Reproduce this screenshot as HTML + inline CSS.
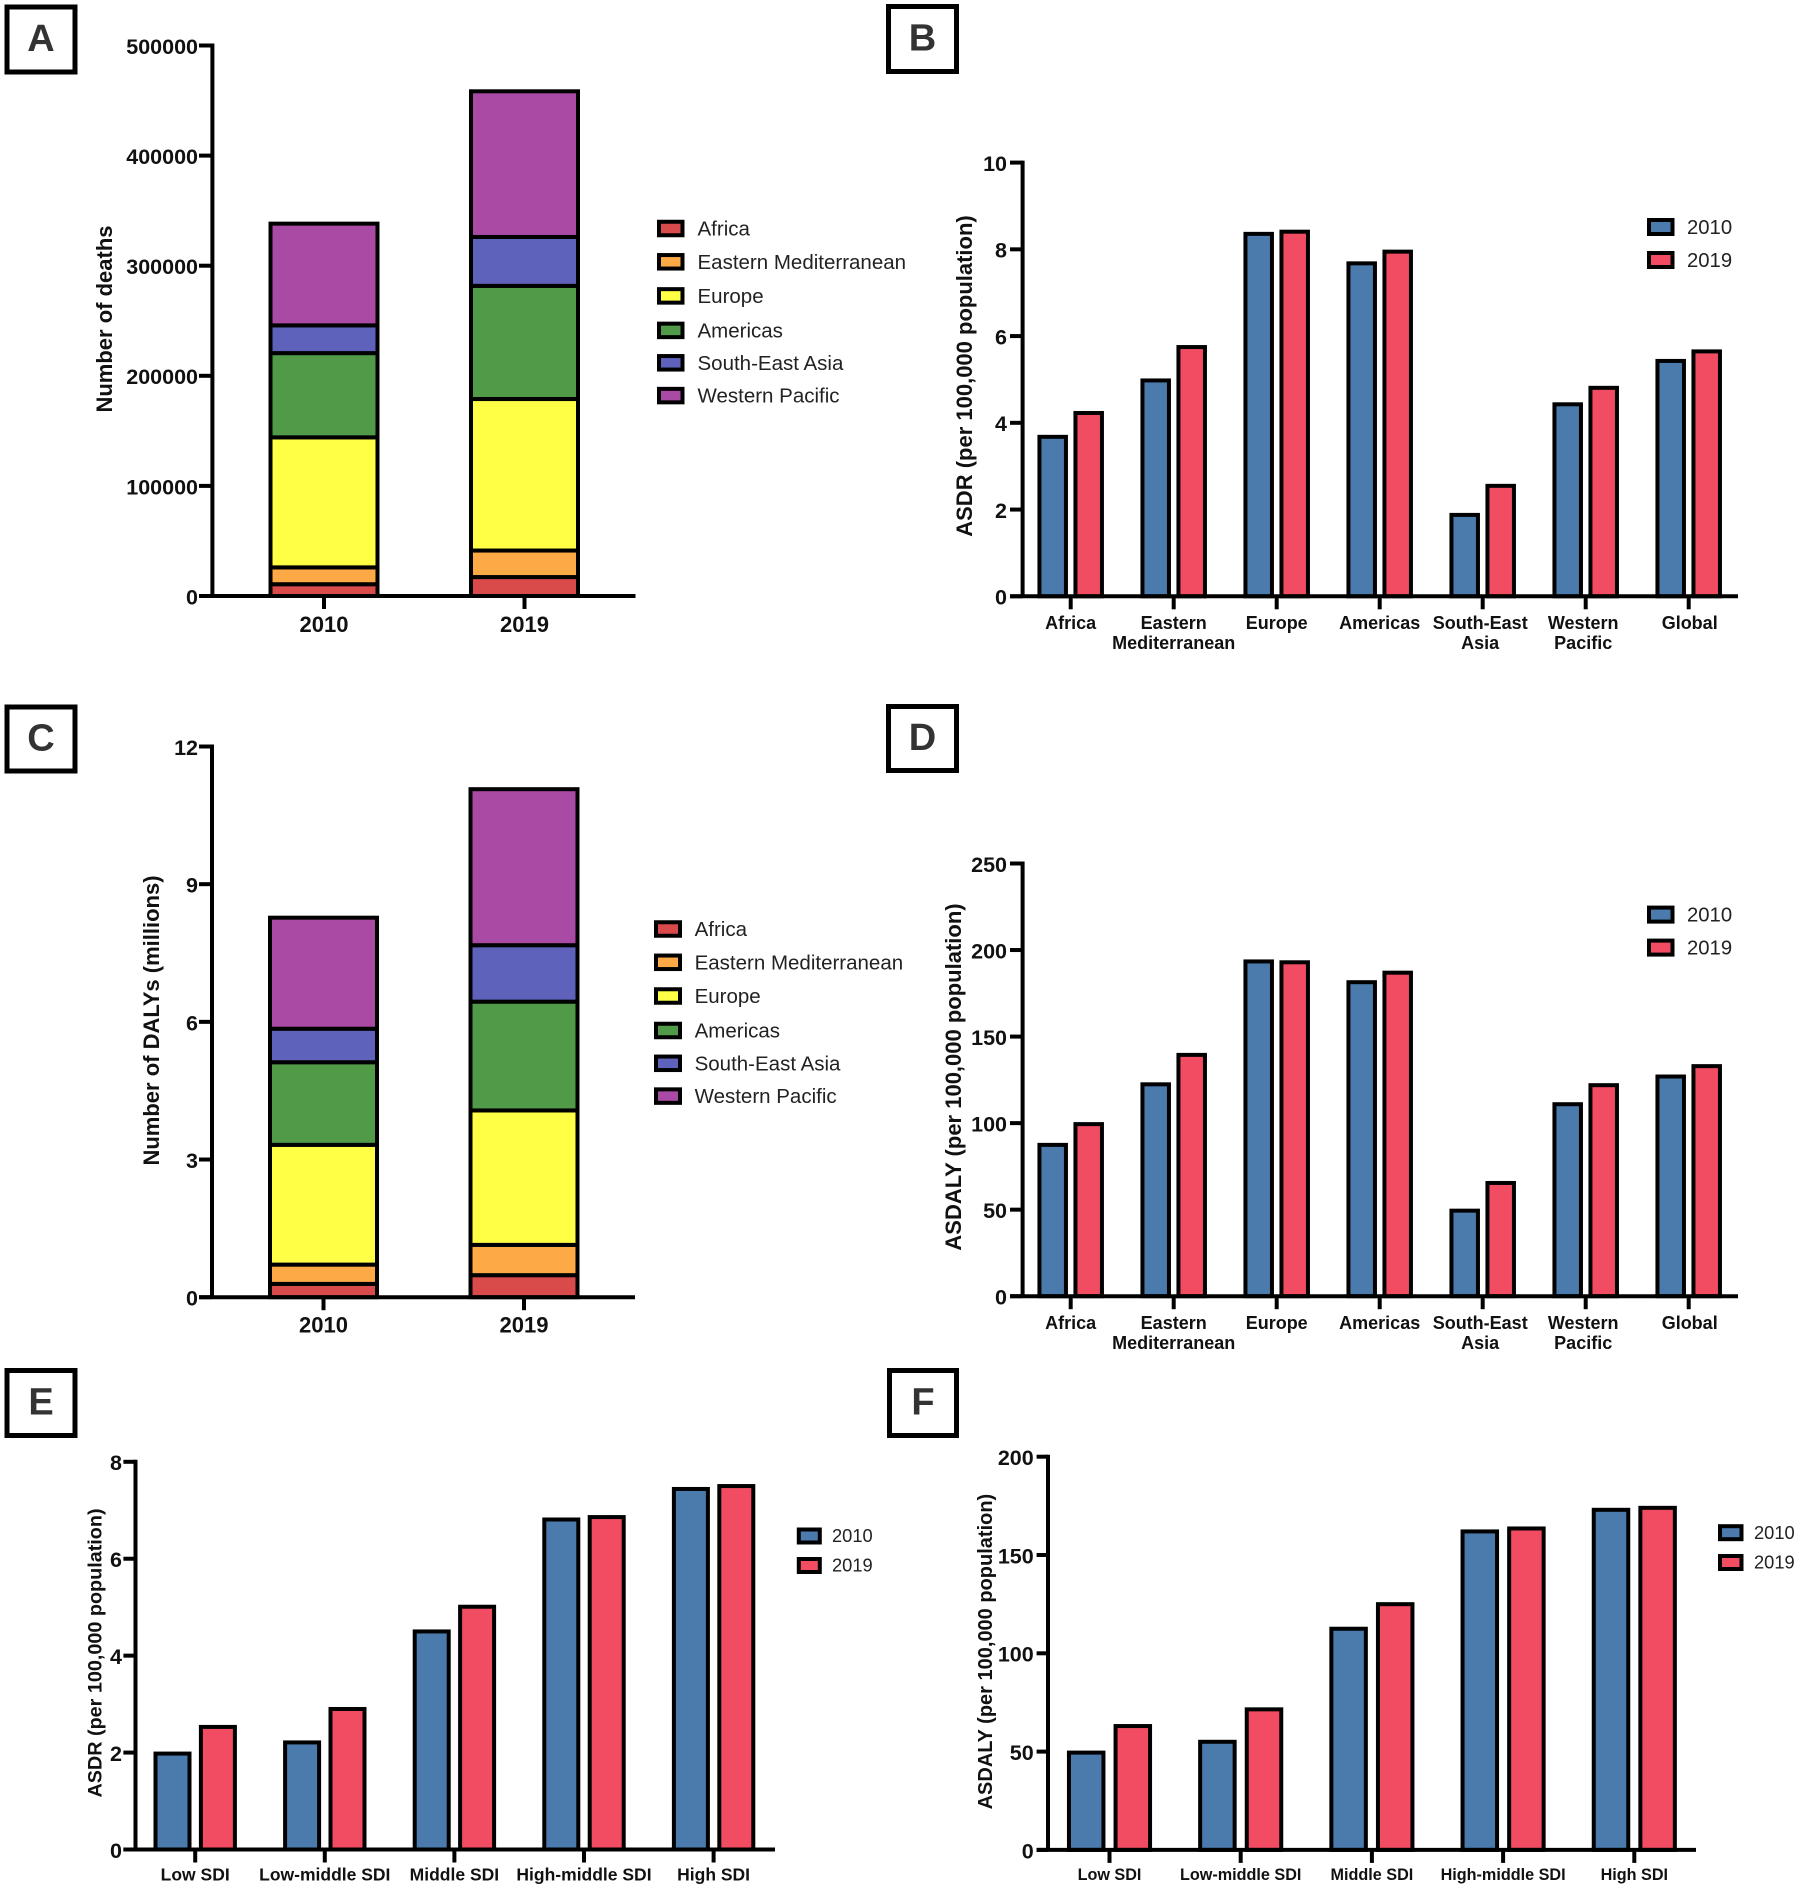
<!DOCTYPE html>
<html lang="en">
<head>
<meta charset="utf-8">
<title>Deaths and DALYs by region and SDI, 2010 and 2019</title>
<style>
html,body{margin:0;padding:0;background:#fff;}
#figure{display:block;width:1800px;height:1890px;font-family:"Liberation Sans",Arial,sans-serif;}
</style>
</head>
<body>
<svg id="figure" xmlns="http://www.w3.org/2000/svg" width="1800" height="1890" viewBox="0 0 1800 1890"></svg>
<script>
// ---------- chart data ----------
const stackYears = ['2010', '2019'];
const regionNames = ['Africa', 'Eastern Mediterranean', 'Europe', 'Americas', 'South-East Asia', 'Western Pacific'];
const deaths2010 = [10700, 15300, 118100, 76500, 25200, 92400];
const deaths2019 = [17200, 24100, 137600, 102800, 44400, 132300];
const deathsTicks = [0, 100000, 200000, 300000, 400000, 500000];
const dalys2010 = [0.29, 0.42, 2.61, 1.80, 0.73, 2.42];
const dalys2019 = [0.48, 0.66, 2.93, 2.37, 1.23, 3.40];
const dalysTicks = [0, 3, 6, 9, 12];

const whoLabels = [['Africa'], ['Eastern', 'Mediterranean'], ['Europe'], ['Americas'], ['South-East', 'Asia'], ['Western', 'Pacific'], ['Global']];
const asdrWho2010 = [3.70, 5.00, 8.38, 7.70, 1.90, 4.45, 5.45];
const asdrWho2019 = [4.25, 5.77, 8.43, 7.97, 2.57, 4.83, 5.67];
const asdrWhoTicks = [0, 2, 4, 6, 8, 10];
const asdalyWho2010 = [88, 123, 194, 182, 50, 111.5, 127.5];
const asdalyWho2019 = [100, 140, 193.5, 187.5, 66, 122.5, 133.5];
const asdalyWhoTicks = [0, 50, 100, 150, 200, 250];

const sdiLabels = [['Low SDI'], ['Low-middle SDI'], ['Middle SDI'], ['High-middle SDI'], ['High SDI']];
const asdrSdi2010 = [2.00, 2.23, 4.52, 6.83, 7.46];
const asdrSdi2019 = [2.55, 2.92, 5.03, 6.88, 7.52];
const asdrSdiTicks = [0, 2, 4, 6, 8];
const asdalySdi2010 = [50, 55.5, 113, 162.5, 173.5];
const asdalySdi2019 = [63.5, 72, 125.5, 164, 174.5];
const asdalySdiTicks = [0, 50, 100, 150, 200];

// ---------- styling ----------
const regionColors = ['#d94a4b', '#fda945', '#ffff46', '#509a48', '#5f62bb', '#a94aa4'];
const yearColors = ['#4a7bac', '#f24c62'];
const STROKE = 4;
const svg = document.getElementById('figure');

function make(tag, attrs, text) {
  const node = document.createElementNS('http://www.w3.org/2000/svg', tag);
  for (const k in attrs) node.setAttribute(k, attrs[k]);
  if (text !== undefined) node.textContent = text;
  return node;
}
function slug(s) { return String(s).toLowerCase().replace(/[^a-z0-9]+/g, '-'); }

function drawPanelLetter(letter, x, y, w, h) {
  const box = make('rect', {x: x + 2.5, y: y + 2.5, width: w - 5, height: h - 5, fill: '#fff', stroke: '#000', 'stroke-width': 5});
  
  
  svg.appendChild(box);
  const t = make('text', {x: x + w / 2, y: y + h / 2 + 11.5, 'text-anchor': 'middle', 'font-size': 38, 'font-weight': 700, fill: '#333'}, letter);
  
  
  svg.appendChild(t);
}

function drawYAxis(p, yOf) {
  const g = make('g', {});
  
  
  svg.appendChild(g);
  const line = make('line', {x1: p.x0, x2: p.x0, y1: p.yTop - STROKE / 2, y2: p.y0, stroke: '#000', 'stroke-width': STROKE});
  
  
  g.appendChild(line);
  p.ticks.forEach(function (v) {
    const y = yOf(v);
    const tick = make('line', {x1: p.tickLeft, x2: p.x0, y1: y, y2: y, stroke: '#000', 'stroke-width': STROKE});
    
    
    g.appendChild(tick);
    const label = make('text', {x: p.labelRight, y: y + 8.4, 'text-anchor': 'end', 'font-size': 21.5, 'font-weight': 700, fill: '#111'}, v);
    
    
    g.appendChild(label);
  });
  const title = make('text', {x: 0, y: 0, 'text-anchor': 'middle', 'font-size': p.titleSize, 'font-weight': 700, fill: '#111', transform: 'translate(' + p.titleX + ',' + p.titleY + ') rotate(-90)'}, p.title);
  
  
  svg.appendChild(title);
}

function drawXAxis(p, xCenters, labels) {
  const g = make('g', {});
  
  
  svg.appendChild(g);
  const line = make('line', {x1: p.tickLeft, x2: p.xRight, y1: p.y0, y2: p.y0, stroke: '#000', 'stroke-width': STROKE});
  
  
  g.appendChild(line);
  labels.forEach(function (lines, i) {
    const tick = make('line', {x1: xCenters[i], x2: xCenters[i], y1: p.y0, y2: p.y0 + 13, stroke: '#000', 'stroke-width': STROKE});
    
    
    g.appendChild(tick);
    const nudge = p.labelNudge ? p.labelNudge[i] : 0;
    lines.forEach(function (s, j) {
      const t = make('text', {x: xCenters[i] + nudge, y: p.labelBase + j * 20, 'text-anchor': 'middle', 'font-size': p.labelSize, 'font-weight': 700, fill: '#111'}, s);
      
      
      g.appendChild(t);
    });
  });
}

function drawLegend(p, names, colors) {
  const g = make('g', {});
  
  
  svg.appendChild(g);
  names.forEach(function (name, i) {
    const cy = p.legendY[i];
    const sw = make('rect', {x: p.legendX + STROKE / 2, y: cy - p.swatchH / 2 + STROKE / 2, width: p.swatchW - STROKE, height: p.swatchH - STROKE, fill: colors[i], stroke: '#000', 'stroke-width': STROKE});
    
    
    g.appendChild(sw);
    const t = make('text', {x: p.legendTextX, y: cy + p.legendSize * 0.34, 'font-size': p.legendSize, fill: '#222'}, name);
    
    
    g.appendChild(t);
  });
}

function drawStacked(p, series) {
  const yOf = function (v) { return p.y0 - (v / p.max) * (p.y0 - p.yTop); };
  const centers = p.groupX;
  series.forEach(function (values, yi) {
    let cum = 0;
    values.forEach(function (v, ri) {
      const top = yOf(cum + v);
      const bottom = yOf(cum);
      const r = make('rect', {x: centers[yi] - p.barW / 2 + STROKE / 2, y: top, width: p.barW - STROKE, height: bottom - top, fill: regionColors[ri], stroke: '#000', 'stroke-width': STROKE});
      
      
      svg.appendChild(r);
      cum += v;
    });
  });
  drawYAxis(p, yOf);
  drawXAxis(p, centers, stackYears.map(function (s) { return [s]; }));
  drawLegend(p, regionNames, regionColors);
}

function drawGrouped(p, labels, series) {
  const yOf = function (v) { return p.y0 - (v / p.max) * (p.y0 - p.yTop); };
  const centers = labels.map(function (_, i) { return p.firstX + i * p.stepX; });
  series.forEach(function (values, si) {
    values.forEach(function (v, i) {
      const cx = centers[i] + (si === 0 ? -p.offset : p.offset);
      const top = yOf(v) + STROKE / 2 - 1;
      const r = make('rect', {x: cx - p.barW / 2 + STROKE / 2, y: top, width: p.barW - STROKE, height: p.y0 - top, fill: yearColors[si], stroke: '#000', 'stroke-width': STROKE});
      
      
      svg.appendChild(r);
    });
  });
  drawYAxis(p, yOf);
  drawXAxis(p, centers, labels);
  drawLegend(p, stackYears, yearColors);
}

// ---------- panels ----------
drawPanelLetter('A', 4.5, 4.5, 73, 70);
drawPanelLetter('B', 886, 4, 73, 70);
drawPanelLetter('C', 4.5, 704.5, 73, 69);
drawPanelLetter('D', 886, 704, 73, 69);
drawPanelLetter('E', 4.5, 1368, 73, 70);
drawPanelLetter('F', 887, 1368, 72, 70);

drawStacked({
  id: 'panel-a', x0: 212.4, y0: 596, yTop: 45.5, max: 500000, ticks: deathsTicks, tickLeft: 199, xRight: 635.5,
  labelRight: 198, title: 'Number of deaths', titleSize: 22, titleX: 112, titleY: 319,
  groupX: [324, 524.5], barW: 111, labelBase: 632, labelSize: 22,
  legendX: 657, legendTextX: 697.5, legendSize: 20.5, swatchW: 27.5, swatchH: 17.5,
  legendY: [228.5, 261.8, 295.9, 330.4, 362.8, 395.6]
}, [deaths2010, deaths2019]);

drawStacked({
  id: 'panel-c', x0: 212, y0: 1297.2, yTop: 746.5, max: 12, ticks: dalysTicks, tickLeft: 199, xRight: 635,
  labelRight: 198, title: 'Number of DALYs (millions)', titleSize: 22, titleX: 159, titleY: 1020.5,
  groupX: [323.5, 524], barW: 111, labelBase: 1332.5, labelSize: 22,
  legendX: 654, legendTextX: 694.6, legendSize: 20.5, swatchW: 28, swatchH: 17.5,
  legendY: [929, 962.3, 996, 1030.5, 1063.3, 1096.1]
}, [dalys2010, dalys2019]);

drawGrouped({
  id: 'panel-b', x0: 1022.6, y0: 596.3, yTop: 162.6, max: 10, ticks: asdrWhoTicks, tickLeft: 1010, xRight: 1738,
  labelRight: 1007, title: 'ASDR (per 100,000 population)', titleSize: 22, titleX: 972, titleY: 376,
  firstX: 1070.7, stepX: 103, offset: 18, barW: 30.5, labelBase: 629, labelSize: 18, labelNudge: [0, 0, 0, 0, -2.5, -2.5, 1],
  legendX: 1647, legendTextX: 1687, legendSize: 20.3, swatchW: 27.5, swatchH: 18,
  legendY: [227, 260]
}, whoLabels, [asdrWho2010, asdrWho2019]);

drawGrouped({
  id: 'panel-d', x0: 1022.6, y0: 1296.2, yTop: 863.5, max: 250, ticks: asdalyWhoTicks, tickLeft: 1010, xRight: 1738,
  labelRight: 1007, title: 'ASDALY (per 100,000 population)', titleSize: 22, titleX: 961, titleY: 1077,
  firstX: 1070.7, stepX: 103, offset: 18, barW: 30.5, labelBase: 1329, labelSize: 18, labelNudge: [0, 0, 0, 0, -2.5, -2.5, 1],
  legendX: 1647, legendTextX: 1687, legendSize: 20.3, swatchW: 27.5, swatchH: 18,
  legendY: [914.6, 947.6]
}, whoLabels, [asdalyWho2010, asdalyWho2019]);

drawGrouped({
  id: 'panel-e', x0: 135.5, y0: 1849.5, yTop: 1461.8, max: 8, ticks: asdrSdiTicks, tickLeft: 123.4, xRight: 775,
  labelRight: 122, title: 'ASDR (per 100,000 population)', titleSize: 19.8, titleX: 101.5, titleY: 1653,
  firstX: 195.2, stepX: 129.6, offset: 22.7, barW: 38, labelBase: 1880.5, labelSize: 17.5,
  legendX: 796.8, legendTextX: 832, legendSize: 18.3, swatchW: 25, swatchH: 17,
  legendY: [1536, 1565.5]
}, sdiLabels, [asdrSdi2010, asdrSdi2019]);

drawGrouped({
  id: 'panel-f', x0: 1048, y0: 1849.9, yTop: 1456.7, max: 200, ticks: asdalySdiTicks, tickLeft: 1036.6, xRight: 1696,
  labelRight: 1033.7, title: 'ASDALY (per 100,000 population)', titleSize: 20, titleX: 992, titleY: 1651.6,
  firstX: 1109.5, stepX: 131.2, offset: 23.3, barW: 38.5, labelBase: 1880, labelSize: 16.2,
  legendX: 1718, legendTextX: 1754, legendSize: 18.3, swatchW: 25.5, swatchH: 17,
  legendY: [1532.7, 1562.5]
}, sdiLabels, [asdalySdi2010, asdalySdi2019]);
</script>
</body>
</html>
